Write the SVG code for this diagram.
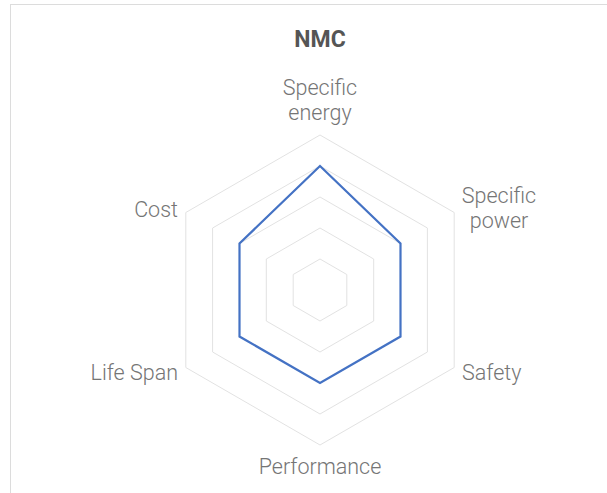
<svg xmlns="http://www.w3.org/2000/svg" width="607" height="493" viewBox="0 0 607 493">
<style>
.lbl{font-family:Roboto,"Liberation Sans",sans-serif;font-size:21.5px;font-weight:300;fill:#757575}
.title{font-family:Roboto,"Liberation Sans",sans-serif;font-size:23px;font-weight:bold;fill:#555555}
.grid{fill:none;stroke:#e2e2e2;stroke-width:1}
.data{fill:none;stroke:#4472c4;stroke-width:2.2;stroke-linejoin:miter}
</style>
<rect x="0" y="0" width="607" height="493" fill="#ffffff"/>
<rect x="10.5" y="4.5" width="700" height="600" fill="none" stroke="#dcdcdc" stroke-width="1"/>
<text class="title" x="320" y="47" text-anchor="middle">NMC</text>
<g id="grid">
<polygon class="grid" points="320,135 454.2,212.5 454.2,367.5 320,445 185.8,367.5 185.8,212.5"/>
<polygon class="grid" points="320,166 427.4,228 427.4,352 320,414 212.6,352 212.6,228"/>
<polygon class="grid" points="320,197 400.5,243.5 400.5,336.5 320,383 239.5,336.5 239.5,243.5"/>
<polygon class="grid" points="320,228 373.7,259 373.7,321 320,352 266.3,321 266.3,259"/>
<polygon class="grid" points="320,259 346.8,274.5 346.8,305.5 320,321 293.2,305.5 293.2,274.5"/>
</g>
<g id="series">
<polygon class="data" points="320,166 400.5,243.5 400.5,336.5 320,383 239.5,336.5 239.5,243.5"/>
</g>
<g id="label-specific-energy"><text class="lbl" text-anchor="middle"><tspan x="320" y="95">Specific</tspan><tspan x="320" y="120">energy</tspan></text></g>
<g id="label-specific-power"><text class="lbl" text-anchor="middle"><tspan x="499" y="203">Specific</tspan><tspan x="499" y="228">power</tspan></text></g>
<g id="label-safety"><text class="lbl" x="462" y="380">Safety</text></g>
<g id="label-performance"><text class="lbl" x="320" y="474" text-anchor="middle">Performance</text></g>
<g id="label-life-span"><text class="lbl" x="178" y="380" text-anchor="end">Life Span</text></g>
<g id="label-cost"><text class="lbl" x="178" y="217" text-anchor="end">Cost</text></g>
</svg>
